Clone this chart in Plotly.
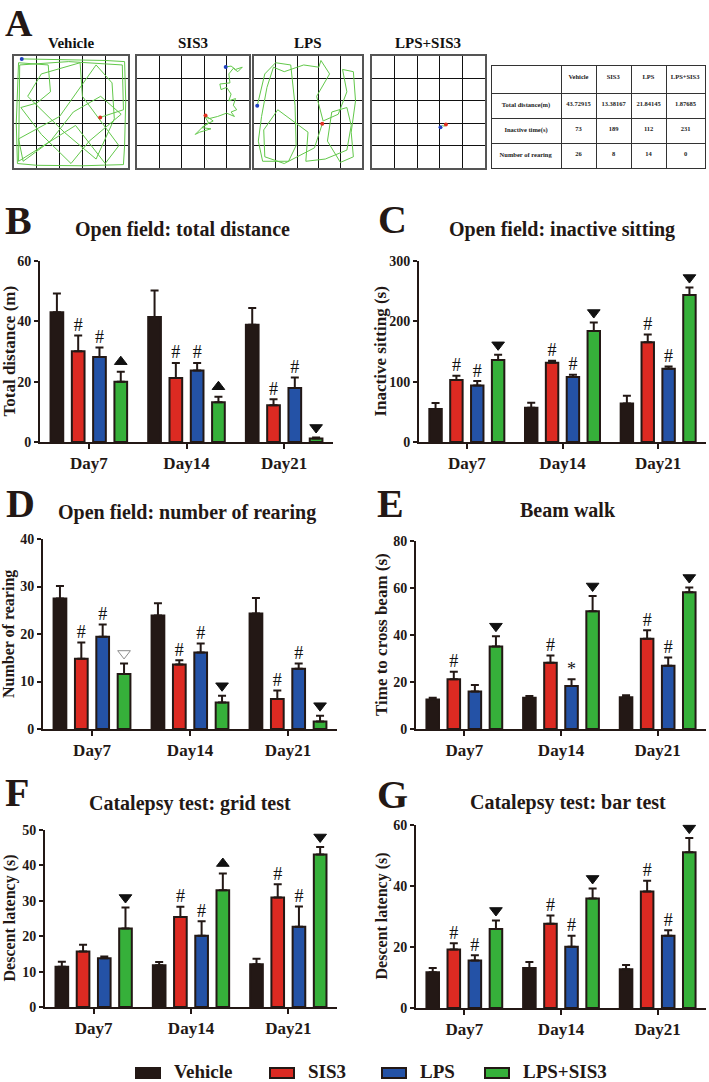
import plotly.graph_objects as go

W, H = 709, 1082
FONT = 'Liberation Serif'

groups = ['Vehicle', 'SIS3', 'LPS', 'LPS+SIS3']
colors = ['#231815', '#dc2a22', '#2452a6', '#36b03a']
days = ['Day7', 'Day14', 'Day21']

# open field: total distance (m)
dist_mean = [[43.0, 41.4, 38.9], [30.1, 21.2, 12.2], [28.2, 23.7, 17.9], [20.0, 13.2, 1.2]]
dist_sem = [[6.2, 8.8, 5.5], [5.2, 5.0, 2.0], [3.1, 2.5, 3.5], [3.3, 1.8, 0.3]]
dist_sig = [['', '', ''], ['#', '#', '#'], ['#', '#', '#'], ['▲', '▲', '▼']]

# open field: inactive sitting (s)
sit_mean = [[54.6, 56.8, 64.0], [102.6, 131.3, 165.5], [93.8, 107.6, 121.3], [136.0, 184.0, 243.8]]
sit_sem = [[9.9, 8.2, 12.7], [7.1, 3.3, 12.5], [7.2, 3.8, 3.9], [8.5, 14.0, 12.2]]
sit_sig = [['', '', ''], ['#', '#', '#'], ['#', '#', '#'], ['▼', '▼', '▼']]

# open field: number of rearing
rear_mean = [[27.5, 23.9, 24.3], [14.8, 13.6, 6.3], [19.4, 16.1, 12.7], [11.6, 5.6, 1.6]]
rear_sem = [[2.6, 2.6, 3.3], [3.4, 0.9, 1.8], [2.6, 1.9, 1.1], [2.2, 1.4, 1.2]]
rear_sig = [['', '', ''], ['#', '#', '#'], ['#', '#', '#'], ['▽', '▼', '▼']]

# beam walk (s)
beam_mean = [[12.6, 13.3, 13.5], [21.2, 28.2, 38.4], [16.0, 18.3, 26.9], [35.1, 50.1, 58.2]]
beam_sem = [[0.7, 0.7, 0.9], [3.2, 3.1, 3.6], [2.7, 2.9, 3.5], [4.4, 6.5, 2.0]]
beam_sig = [['', '', ''], ['#', '#', '#'], ['', '*', '#'], ['▼', '▼', '▼']]

# catalepsy: grid test (s)
grid_mean = [[11.4, 11.8, 12.1], [15.7, 25.4, 30.9], [13.8, 20.1, 22.7], [22.2, 33.0, 43.1]]
grid_sem = [[1.4, 0.9, 1.5], [1.9, 2.9, 3.8], [0.5, 4.1, 5.7], [5.9, 4.7, 2.1]]
grid_sig = [['', '', ''], ['', '#', '#'], ['', '#', '#'], ['▼', '▲', '▼']]

# catalepsy: bar test (s)
bar_mean = [[11.7, 13.1, 12.7], [19.2, 27.6, 38.2], [15.6, 20.1, 23.7], [25.9, 35.9, 51.1]]
bar_sem = [[1.4, 2.0, 1.4], [2.0, 2.7, 3.5], [1.7, 3.6, 1.8], [2.8, 3.3, 4.6]]
bar_sig = [['', '', ''], ['#', '#', '#'], ['#', '#', '#'], ['▼', '▼', '▼']]

# table in panel A
table_rows = ['Total distance(m)', 'Inactive time(s)', 'Number of rearing']
table_vehicle = ['43.72915', '73', '26']
table_sis3 = ['13.38167', '189', '8']
table_lps = ['21.84145', '112', '14']
table_lps_sis3 = ['1.87685', '231', '0']

# open field tracks (arena units, 5x5 squares)
track_vehicle_x = [0.34, 2.0, 4.0, 4.85, 4.9, 4.85, 4.8, 3.0, 1.0, 0.15, 0.1, 0.2, 1.5, 1.6, 1.0, 0.3,
                   1.2, 2.5, 3.3, 4.7, 3.8, 2.6, 1.6, 0.4, 0.2, 2.0, 3.6, 4.3, 4.4, 3.6, 2.2, 0.6,
                   1.2, 2.9, 3.0, 4.6, 4.0, 2.7, 0.2, 0.25, 2.4, 4.75, 4.8, 3.78]
track_vehicle_y = [4.87, 4.85, 4.8, 4.75, 3.0, 1.0, 0.15, 0.1, 0.12, 0.2, 2.0, 4.7, 4.6, 3.4, 2.9, 2.7,
                   1.5, 0.2, 1.2, 2.4, 3.2, 2.5, 1.2, 0.3, 1.3, 2.3, 4.6, 3.8, 2.2, 0.4, 1.6, 3.2,
                   4.2, 4.7, 3.2, 1.0, 0.2, 1.9, 0.3, 4.6, 4.75, 4.6, 2.6, 2.26]
track_sis3_x = [3.96, 4.2, 4.4, 4.7, 4.5, 4.3, 4.1, 4.15, 3.7, 3.75, 4.0, 4.2, 4.1, 4.4, 4.3, 4.45,
                4.2, 4.35, 4.0, 3.6, 3.2, 3.0, 3.2, 2.9, 3.3, 2.8, 2.6, 3.0, 3.4, 3.06]
track_sis3_y = [4.51, 4.55, 4.4, 4.5, 4.3, 4.45, 4.2, 3.8, 3.75, 3.5, 3.6, 3.3, 3.0, 3.1, 2.8, 2.6,
                2.5, 2.3, 2.45, 2.3, 2.2, 2.35, 2.0, 1.8, 1.75, 1.6, 1.5, 1.9, 2.1, 2.34]
track_lps_x = [0.15, 0.3, 0.5, 1.0, 1.7, 1.9, 1.95, 1.6, 0.4, 0.2, 0.35, 0.6, 0.9, 1.4, 2.3, 3.0,
               3.1, 3.5, 2.9, 3.2, 3.9, 4.3, 4.1, 4.6, 4.7, 4.5, 4.6, 4.0, 3.4, 3.6, 4.3, 4.5,
               4.3, 3.3, 2.4, 2.5, 1.1, 0.45, 0.5, 1.4, 2.8, 3.16]
track_lps_y = [2.78, 3.4, 4.2, 4.7, 4.6, 2.8, 1.0, 0.3, 0.3, 1.2, 2.3, 3.6, 4.5, 4.3, 4.6, 4.5,
               4.8, 4.2, 3.2, 2.1, 2.4, 3.4, 4.4, 4.3, 3.0, 1.6, 0.5, 0.25, 1.2, 2.5, 2.7, 1.9,
               0.8, 0.4, 0.3, 1.6, 2.6, 1.7, 0.5, 0.2, 0.9, 1.97]
track_lps_sis3_x = [3.03, 3.12, 3.2, 3.27]
track_lps_sis3_y = [1.82, 1.9, 1.86, 1.94]

tracks = [(track_vehicle_x, track_vehicle_y), (track_sis3_x, track_sis3_y),
          (track_lps_x, track_lps_y), (track_lps_sis3_x, track_lps_sis3_y)]


def fx(p):
    return p / W


def fy(p):
    return 1 - p / H


panels = [
    # letter, title, y title, mean, sem, sig, ymax, dtick, box(l, r, t, b), title pos, letter pos,
    # y-title x centre, y-title size
    ('B', 'Open field: total distance', 'Total distance (m)', dist_mean, dist_sem, dist_sig, 60, 20,
     (40, 333, 261, 442), (182, 229), (18, 220), 9, 17),
    ('C', 'Open field: inactive sitting', 'Inactive sitting (s)', sit_mean, sit_sem, sit_sig, 300, 100,
     (419, 706, 261, 442), (562, 229), (392, 219), 380, 17),
    ('D', 'Open field: number of rearing', 'Number of rearing', rear_mean, rear_sem, rear_sig, 40, 10,
     (43, 337, 539, 729), (187, 512), (20, 503), 9, 16),
    ('E', 'Beam walk', 'Time to cross beam (s)', beam_mean, beam_sem, beam_sig, 80, 20,
     (416, 706, 541, 729), (568, 510), (390, 503), 381, 17),
    ('F', 'Catalepsy test: grid test', 'Descent latency (s)', grid_mean, grid_sem, grid_sig, 50, 10,
     (45, 337, 830, 1007), (190, 803), (17, 792), 9, 16),
    ('G', 'Catalepsy test: bar test', 'Descent latency (s)', bar_mean, bar_sem, bar_sig, 60, 20,
     (416, 706, 825, 1008), (568, 802), (392, 794), 381, 16),
]

fig = go.Figure()
layout = {}
annotations = []
shapes = []

slot = 0.218
bar_w = 0.13

for i, (letter, title, ytitle, mean, sem, sig, ymax, dtick, box, tpos, lpos, ytx, ysize) in enumerate(panels):
    n = i + 1
    xa = 'x' if n == 1 else 'x%d' % n
    ya = 'y' if n == 1 else 'y%d' % n
    l, r, t, b = box
    hpx = b - t
    for j, g in enumerate(groups):
        xs = [d + (j - 1.5) * slot for d in range(len(days))]
        fig.add_trace(go.Bar(
            x=xs, y=mean[j], width=bar_w, xaxis=xa, yaxis=ya, showlegend=False, name=g,
            marker=dict(color=colors[j], line=dict(color='#231815', width=2)),
            error_y=dict(type='data', array=sem[j], arrayminus=[0] * len(days), symmetric=False,
                         color='#231815', thickness=2, width=4),
        ))
    tx, ty, tt = [], [], []
    mx, my, ms, mc = [], [], [], []
    for j in range(len(groups)):
        for d in range(len(days)):
            s = sig[j][d]
            if not s:
                continue
            x = d + (j - 1.5) * slot
            top = mean[j][d] + sem[j][d]
            if s in ('#', '*'):
                tx.append(x)
                ty.append(top)
                tt.append(s)
            else:
                mx.append(x)
                my.append(top + 10 * ymax / hpx)
                ms.append({'▲': 'triangle-up', '▼': 'triangle-down', '▽': 'triangle-down-open'}[s])
                mc.append('#8c8c8c' if s == '▽' else '#111111')
    if tx:
        fig.add_trace(go.Scatter(x=tx, y=ty, text=tt, mode='text', textposition='top center',
                                 textfont=dict(family=FONT, size=18, color='#111111'),
                                 xaxis=xa, yaxis=ya, showlegend=False, cliponaxis=False))
    if mx:
        fig.add_trace(go.Scatter(x=mx, y=my, mode='markers', xaxis=xa, yaxis=ya, showlegend=False,
                                 cliponaxis=False,
                                 marker=dict(symbol=ms, size=11, color=mc, line=dict(color=mc, width=1))))
    layout['xaxis' if n == 1 else 'xaxis%d' % n] = dict(
        domain=[fx(l), fx(r)], anchor=ya, range=[-0.5, 2.5], tickvals=[0, 1, 2], ticktext=days,
        showline=True, linecolor='#231815', linewidth=2, ticks='outside', ticklen=5, tickwidth=2,
        tickcolor='#231815', showgrid=False, zeroline=False, automargin=False,
        tickfont=dict(family=FONT, size=17, weight='bold', color='#231815'))
    layout['yaxis' if n == 1 else 'yaxis%d' % n] = dict(
        domain=[fy(b), fy(t)], anchor=xa, range=[0, ymax], dtick=dtick,
        showline=True, linecolor='#231815', linewidth=2, ticks='outside', ticklen=4, tickwidth=2,
        tickcolor='#231815', showgrid=False, zeroline=False, automargin=False,
        tickfont=dict(family=FONT, size=14, weight='bold', color='#231815'))
    annotations.append(dict(text=ytitle, x=fx(ytx), y=fy((t + b) / 2), xref='paper', yref='paper',
                            xanchor='center', yanchor='middle', textangle=-90, showarrow=False,
                            font=dict(family=FONT, size=ysize, weight='bold', color='#231815')))
    annotations.append(dict(text=title, x=fx(tpos[0]), y=fy(tpos[1]), xref='paper', yref='paper',
                            xanchor='center', yanchor='middle', showarrow=False,
                            font=dict(family=FONT, size=20, weight='bold', color='#231815')))
    annotations.append(dict(text=letter, x=fx(lpos[0]), y=fy(lpos[1]), xref='paper', yref='paper',
                            xanchor='center', yanchor='middle', showarrow=False,
                            font=dict(family=FONT, size=40, weight='bold', color='#231815')))

# panel A: arenas
arena_boxes = [(14, 128, 56, 168), (137, 249, 56, 168), (254, 362, 56, 168), (372, 485, 56, 168)]
for k, (g, (l, r, t, b), (tx_, ty_)) in enumerate(zip(groups, arena_boxes, tracks)):
    n = 7 + k
    xa, ya = 'x%d' % n, 'y%d' % n
    fig.add_trace(go.Scatter(x=tx_, y=ty_, mode='lines', xaxis=xa, yaxis=ya, showlegend=False,
                             line=dict(color='#62c84a', width=1)))
    fig.add_trace(go.Scatter(x=[tx_[0]], y=[ty_[0]], mode='markers', xaxis=xa, yaxis=ya, showlegend=False,
                             marker=dict(color='#2040c0', size=4)))
    fig.add_trace(go.Scatter(x=[tx_[-1]], y=[ty_[-1]], mode='markers', xaxis=xa, yaxis=ya, showlegend=False,
                             marker=dict(color='#e03020', size=4)))
    ax = dict(showline=True, mirror=True, linecolor='#555555', linewidth=2, showgrid=True,
              gridcolor='#111111', gridwidth=1.2, dtick=1, range=[0, 5], showticklabels=False,
              ticks='', zeroline=False, automargin=False)
    layout['xaxis%d' % n] = dict(ax, domain=[fx(l), fx(r)], anchor=ya)
    layout['yaxis%d' % n] = dict(ax, domain=[fy(b), fy(t)], anchor=xa)
    annotations.append(dict(text=g, x=fx((l + r) / 2), y=fy(43), xref='paper', yref='paper',
                            xanchor='center', yanchor='middle', showarrow=False,
                            font=dict(family=FONT, size=15, weight='bold', color='#111111')))

annotations.append(dict(text='A', x=fx(19), y=1, xref='paper', yref='paper',
                        xanchor='center', yanchor='top', showarrow=False,
                        font=dict(family=FONT, size=38, weight='bold', color='#231815')))

fig.add_trace(go.Table(
    domain=dict(x=[fx(491), fx(706)], y=[fy(169), fy(65)]),
    columnwidth=[72, 36, 36, 36, 40],
    header=dict(values=[''] + ['<b>%s</b>' % g for g in groups], height=28, align='center',
                line=dict(color='#333333', width=1), fill=dict(color='white'),
                font=dict(family=FONT, size=6.5, color='#222222')),
    cells=dict(values=[['<b>%s</b>' % s for s in table_rows], table_vehicle, table_sis3, table_lps,
                       table_lps_sis3],
               height=25, align='center', line=dict(color='#333333', width=1),
               fill=dict(color='white'), font=dict(family=FONT, size=6.5, color='#222222', weight='bold')),
))

# legend
legend_x = [136, 270, 382, 485]
for g, c, x0 in zip(groups, colors, legend_x):
    shapes.append(dict(type='rect', xref='paper', yref='paper', x0=fx(x0), x1=fx(x0 + 24),
                       y0=fy(1078), y1=fy(1068), fillcolor=c, line=dict(color='#231815', width=2)))
    annotations.append(dict(text=g, x=fx(x0 + 36), y=fy(1071), xref='paper', yref='paper',
                            xanchor='left', yanchor='middle', showarrow=False,
                            font=dict(family=FONT, size=19, weight='bold', color='#231815')))

fig.update_layout(
    width=W, height=H, margin=dict(l=0, r=0, t=0, b=0, autoexpand=False),
    paper_bgcolor='white', plot_bgcolor='white', barmode='overlay',
    annotations=annotations, shapes=shapes, **layout,
)

# drop the page's default body margin so the figure sits at the window's corner
fig.write_html("out.html", config={'displayModeBar': False},
               post_script="document.body.style.margin = '0';")
